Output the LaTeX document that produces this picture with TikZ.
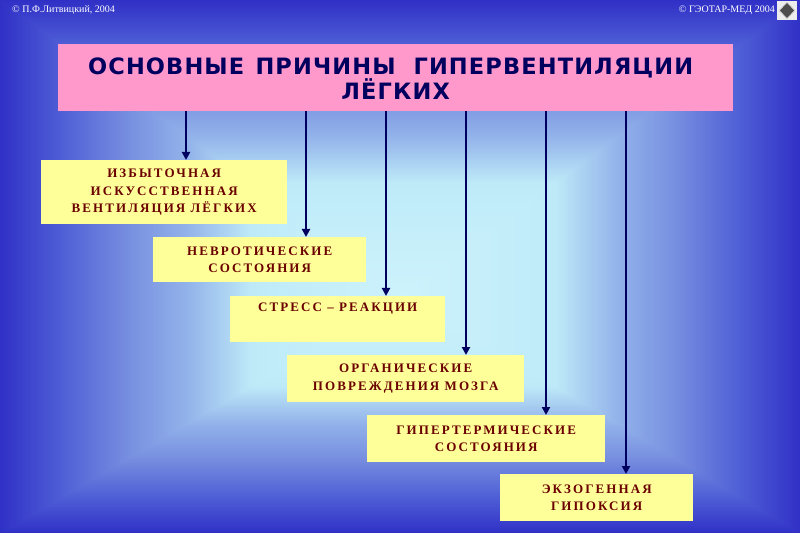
\documentclass[tikz,border=0pt]{standalone}
\usepackage{fontspec}
\setmainfont{Liberation Serif}
\newfontfamily\titlefont[LetterSpace=5]{DejaVu Sans}
\newfontfamily\boxfont[LetterSpace=16]{Liberation Serif}
\usetikzlibrary{arrows.meta,shapes.geometric}
\definecolor{bga}{HTML}{3030C6}
\definecolor{bgb}{HTML}{4E5ED6}
\definecolor{bgc}{HTML}{7890E0}
\definecolor{bgd}{HTML}{92B2EA}
\definecolor{bge}{HTML}{BEEAF8}
\definecolor{bgf}{HTML}{CDF3FC}
\definecolor{titlepink}{HTML}{FF99CC}
\definecolor{titleblue}{HTML}{00005E}
\definecolor{boxyellow}{HTML}{FFFF99}
\definecolor{boxred}{HTML}{6A0000}
\definecolor{arrowblue}{HTML}{000060}
% edge (dark) on the left, centre (light) on the right; visible part is 25bp..75bp
\pgfdeclarehorizontalshading{edgeshade}{100bp}{%
  color(0bp)=(bga); color(25bp)=(bga); color(32.5bp)=(bgb); color(41bp)=(bgc);
  color(48bp)=(bgd); color(56bp)=(bge); color(75bp)=(bgf); color(100bp)=(bgf)}
\tikzset{
  causebox/.style={fill=boxyellow, draw=none, anchor=north west, align=center, inner sep=0pt,
     font=\boxfont\bfseries\fontsize{13bp}{17.3bp}\selectfont, text=boxred},
  titletxt/.style={text=titleblue, font=\titlefont\bfseries\fontsize{22.5bp}{25bp}\selectfont, align=center},
  arr/.style={draw=arrowblue, line width=2.2bp, -{Triangle[length=8bp,width=8bp]}},
  copy/.style={text=white, font=\fontsize{10bp}{11bp}\selectfont, inner sep=0pt}
}
\begin{document}
\begin{tikzpicture}[x=1bp,y=-1bp]
\useasboundingbox (0,0) rectangle (800,533);
% rectangular background gradient: left/right halves, then top/bottom triangles over them
\coordinate (c) at (405,295);
\shade[shading=edgeshade, shading angle=0] (0,0) rectangle (405.5,533);
\shade[shading=edgeshade, shading angle=180] (404.5,0) rectangle (800,533);
\shade[shading=edgeshade, shading angle=-90] (0,0) -- (c) -- (800,0) -- cycle;
\shade[shading=edgeshade, shading angle=90] (0,533) -- (c) -- (800,533) -- cycle;
\node[copy, anchor=base west] (cl) at (12,13) {© П.Ф.Литвицкий, 2004};
\node[copy, anchor=base east] (cr) at (775,13) {© ГЭОТАР-МЕД 2004};
\node[fill=gray!15, draw=none, minimum width=20bp, minimum height=19bp, inner sep=0pt] (iconbg) at (787,10.5) {};
\node[diamond, fill=gray!60!black, draw=gray!30, line width=0.8bp, minimum width=16bp, minimum height=17bp, inner sep=0pt] (icon) at (iconbg.center) {};
\node[fill=titlepink, draw=none, anchor=north west, inner sep=0pt, minimum width=675bp, minimum height=67bp] (title) at (58,44) {};
\node[titletxt] (titletext) at ([xshift=-5bp,yshift=-1bp]title.center) {ОСНОВНЫЕ\hspace{0.5em}ПРИЧИНЫ\hspace{0.8em}ГИПЕРВЕНТИЛЯЦИИ\\\hspace*{10bp}ЛЁГКИХ};
\node[causebox, minimum width=246bp, minimum height=64bp] (b1) at (41,160) {ИЗБЫТОЧНАЯ\\ИСКУССТВЕННАЯ\\ВЕНТИЛЯЦИЯ ЛЁГКИХ};
\node[causebox, minimum width=213bp, minimum height=45bp] (b2) at (153,237) {НЕВРОТИЧЕСКИЕ\\СОСТОЯНИЯ};
\node[causebox, minimum width=215bp, minimum height=46bp] (b3) at (230,296) {};
\node[font=\boxfont\bfseries\fontsize{13bp}{17.3bp}\selectfont, text=boxred, inner sep=0pt] (b3text) at ([yshift=-13bp]b3.north) {СТРЕСС – РЕАКЦИИ};
\node[causebox, minimum width=237bp, minimum height=47bp] (b4) at (287,355) {ОРГАНИЧЕСКИЕ\\ПОВРЕЖДЕНИЯ МОЗГА};
\node[causebox, minimum width=238bp, minimum height=47bp] (b5) at (367,415) {ГИПЕРТЕРМИЧЕСКИЕ\\СОСТОЯНИЯ};
\node[causebox, minimum width=193bp, minimum height=47bp] (b6) at (500,474) {ЭКЗОГЕННАЯ\\ГИПОКСИЯ};
\coordinate (x1) at (186,0);
\coordinate (x2) at (306,0);
\coordinate (x3) at (386,0);
\coordinate (x4) at (466,0);
\coordinate (x5) at (546,0);
\coordinate (x6) at (626,0);
\draw[arr] (title.south -| x1) -- (b1.north -| x1);
\draw[arr] (title.south -| x2) -- (b2.north -| x2);
\draw[arr] (title.south -| x3) -- (b3.north -| x3);
\draw[arr] (title.south -| x4) -- (b4.north -| x4);
\draw[arr] (title.south -| x5) -- (b5.north -| x5);
\draw[arr] (title.south -| x6) -- (b6.north -| x6);
\end{tikzpicture}
\end{document}
